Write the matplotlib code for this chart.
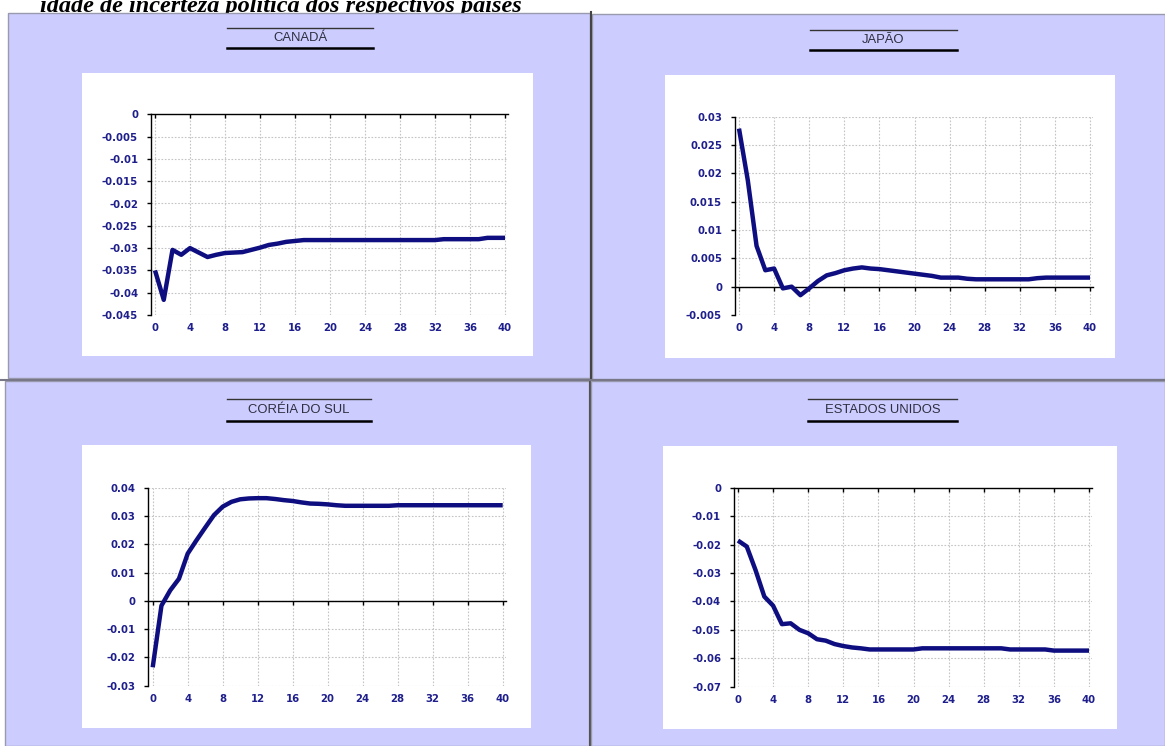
import numpy as np
import matplotlib
matplotlib.use("Agg")
import matplotlib.pyplot as plt
from matplotlib.patches import Rectangle
from matplotlib.lines import Line2D

# ---------------- data ----------------
periods = list(range(0, 41))

canada = [-0.0350, -0.0416, -0.0304, -0.0315, -0.0300, -0.0310, -0.0320, -0.0315,
          -0.0311, -0.0310, -0.0309, -0.0304, -0.0299, -0.0293, -0.0290, -0.0286,
          -0.0284, -0.0282, -0.0282, -0.0282, -0.0282, -0.0282, -0.0282, -0.0282,
          -0.0282, -0.0282, -0.0282, -0.0282, -0.0282, -0.0282, -0.0282, -0.0282,
          -0.0282, -0.0280, -0.0280, -0.0280, -0.0280, -0.0280, -0.0277, -0.0277,
          -0.0277]

japao = [0.0279, 0.0188, 0.0072, 0.0029, 0.0032, -0.0003, 0.0000, -0.0015,
         -0.0003, 0.0010, 0.0020, 0.0024, 0.0029, 0.0032, 0.0034, 0.0032,
         0.0031, 0.0029, 0.0027, 0.0025, 0.0023, 0.0021, 0.0019, 0.0016,
         0.0016, 0.0016, 0.0014, 0.0013, 0.0013, 0.0013, 0.0013, 0.0013,
         0.0013, 0.0013, 0.0015, 0.0016, 0.0016, 0.0016, 0.0016, 0.0016,
         0.0016]

coreia = [-0.0235, -0.0017, 0.0037, 0.0078, 0.0167, 0.0214, 0.0259, 0.0303,
          0.0333, 0.0350, 0.0359, 0.0362, 0.0363, 0.0363, 0.0360, 0.0356,
          0.0353, 0.0348, 0.0344, 0.0343, 0.0341, 0.0338, 0.0336, 0.0336,
          0.0336, 0.0336, 0.0336, 0.0336, 0.0338, 0.0338, 0.0338, 0.0338,
          0.0338, 0.0338, 0.0338, 0.0338, 0.0338, 0.0338, 0.0338, 0.0338,
          0.0338]

eua = [-0.0186, -0.0207, -0.0290, -0.0383, -0.0415, -0.0480, -0.0477, -0.0500,
       -0.0512, -0.0533, -0.0538, -0.0550, -0.0557, -0.0562, -0.0565, -0.0569,
       -0.0569, -0.0569, -0.0569, -0.0569, -0.0569, -0.0565, -0.0565, -0.0565,
       -0.0565, -0.0565, -0.0565, -0.0565, -0.0565, -0.0565, -0.0565, -0.0569,
       -0.0569, -0.0569, -0.0569, -0.0569, -0.0573, -0.0573, -0.0573, -0.0573,
       -0.0573]

titles = ["CANADÁ", "JAPÃO", "CORÉIA DO SUL", "ESTADOS UNIDOS"]
series = [canada, japao, coreia, eua]
ylims = [(-0.045, 0.0), (-0.005, 0.03), (-0.03, 0.04), (-0.07, 0.0)]
ysteps = [0.005, 0.005, 0.01, 0.01]
xticks = list(range(0, 41, 4))
caption = "idade de incerteza política dos respectivos países"

# ---------------- layout (pixels) ----------------
W, H = 1165, 746
fig = plt.figure(figsize=(W / 100, H / 100), dpi=100)
fig.patch.set_facecolor("white")


def frect(l, t, r, b):
    return [l / W, 1 - b / H, (r - l) / W, (b - t) / H]


LAV = "#CCCCFF"
NAVY = "#0E0E80"
TICKC = "#1E1E8C"

layout = [
    dict(bg=(8, 13, 590, 378), white=(82, 73, 533, 356), x0=155, x40=505,
         ytop=114.3, ybot=315, ttl_y=38, lines=(227, 373, 28, 48)),
    dict(bg=(592, 14, 1165, 379), white=(665, 75, 1115, 358), x0=739, x40=1090,
         ytop=116.7, ybot=315, ttl_y=40, lines=(810, 957, 30, 50)),
    dict(bg=(5, 381, 589, 746), white=(82, 445, 531, 728), x0=152.7, x40=502.7,
         ytop=487.7, ybot=685.7, ttl_y=410, lines=(227, 371, 399, 421)),
    dict(bg=(591, 381, 1165, 746), white=(663, 446, 1117, 729), x0=738, x40=1089,
         ytop=487.7, ybot=686.7, ttl_y=410, lines=(808, 957, 399, 421)),
]

# caption (the line of text above the panels)
fig.text(522 / W, 1 - 12 / H, caption, ha="right", va="baseline",
         fontsize=17.5, fontweight="bold", fontstyle="italic",
         family=["Liberation Serif", "DejaVu Serif"], color="black", zorder=0.5)

XL, XR = -0.5, 40.35

for name, ys, ylim, ystep, L in zip(titles, series, ylims, ysteps, layout):
    l, t, r, b = L["bg"]
    fig.patches.append(Rectangle((l / W, 1 - b / H), (r - l) / W, (b - t) / H,
                                 transform=fig.transFigure, facecolor=LAV,
                                 edgecolor="#9a9aae", lw=1.0, zorder=1))
    l, t, r, b = L["white"]
    fig.patches.append(Rectangle((l / W, 1 - b / H), (r - l) / W, (b - t) / H,
                                 transform=fig.transFigure, facecolor="white",
                                 edgecolor="none", zorder=1.5))
    # title with rules
    x1, x2, yu, yl = L["lines"]
    fig.text((x1 + x2) / 2 / W, 1 - L["ttl_y"] / H, name, ha="center", va="center",
             fontsize=9.4, family=["Liberation Sans", "DejaVu Sans"], color="#2e2e40",
             zorder=4)
    fig.add_artist(Line2D([x1 / W, x2 / W], [1 - yu / H, 1 - yu / H],
                          color="#333333", lw=1.0, zorder=4))
    fig.add_artist(Line2D([x1 / W, x2 / W], [1 - yl / H, 1 - yl / H],
                          color="black", lw=1.8, zorder=4))

    # axes
    sc = (L["x40"] - L["x0"]) / 40.0
    al = L["x0"] + XL * sc
    ar = L["x0"] + XR * sc
    ax = fig.add_axes(frect(al, L["ytop"], ar, L["ybot"]))
    ax.set_zorder(5)
    ax.set_facecolor("none")
    ax.set_xlim(XL, XR)
    ax.set_ylim(*ylim)
    yt = np.round(np.arange(ylim[0], ylim[1] + ystep / 2, ystep), 4)
    ax.set_yticks(yt)
    ax.set_yticklabels(["0" if abs(v) < 1e-9 else f"{v:g}" for v in yt])
    ax.set_xticks(xticks)
    ax.set_xticklabels([str(v) for v in xticks])
    for s in ["right", "bottom"]:
        ax.spines[s].set_visible(False)
    ax.spines["left"].set_linewidth(1.0)
    ax.spines["left"].set_color("black")
    ax.spines["top"].set_position(("data", 0))
    ax.spines["top"].set_linewidth(1.0)
    ax.spines["top"].set_color("black")
    ax.tick_params(axis="x", top=True, bottom=False, labeltop=False,
                   labelbottom=True, direction="in", length=3, width=1,
                   pad=6, labelsize=7.3, labelcolor=TICKC)
    ax.tick_params(axis="y", direction="out", length=3, width=1, pad=6,
                   labelsize=7.3, labelcolor=TICKC)
    for lab in ax.get_xticklabels() + ax.get_yticklabels():
        lab.set_fontweight("bold")
        lab.set_family(["DejaVu Sans"])
    ax.grid(True, color="#c4c4c4", lw=0.8, linestyle=(0, (1.5, 1.5)))
    ax.set_axisbelow(True)
    ax.plot(periods, ys, color=NAVY, lw=3.2, solid_capstyle="butt",
            solid_joinstyle="round", zorder=5)

# panel dividers
fig.add_artist(Line2D([591 / W, 591 / W], [1 - 12 / H, 1 - 379 / H], color="#444444", lw=1.5, zorder=3))
fig.add_artist(Line2D([590 / W, 590 / W], [1 - 381 / H, 0], color="#444444", lw=1.2, zorder=3))
fig.add_artist(Line2D([0, 1], [1 - 380 / H, 1 - 380 / H], color="#777788", lw=1.5, zorder=3))

fig.savefig("out.png", dpi=100, facecolor="white")
